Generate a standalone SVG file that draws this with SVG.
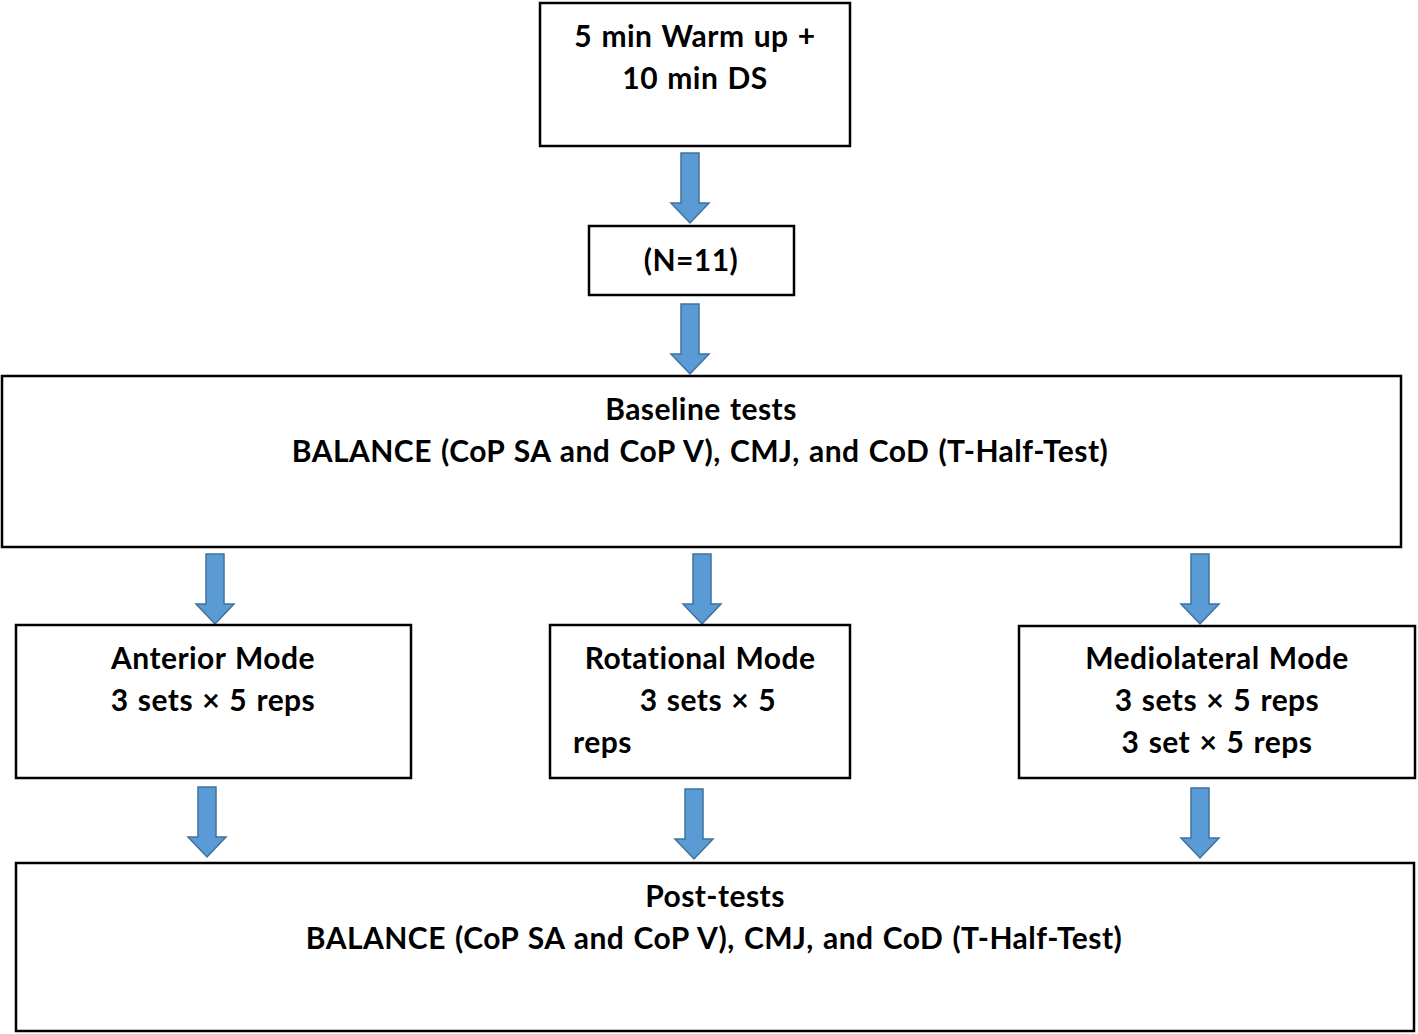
<svg xmlns="http://www.w3.org/2000/svg" width="1418" height="1034" viewBox="0 0 1418 1034">
<defs>
<style>
.box{fill:#fff;stroke:#000;stroke-width:2.5}
.t{font-family:Lato,"Open Sans",sans-serif;font-weight:bold;font-size:30px;letter-spacing:0.45px;word-spacing:1.5px;fill:#000;text-anchor:middle}
.arr{fill:#5B9BD5;stroke:#41719C;stroke-width:1.5}
</style>
<path id="ar" d="M-9,0 H9 V50 H19 L0,70 L-19,50 H-9 Z"/>
</defs>
<rect width="1418" height="1034" fill="#fff"/>
<g id="connectors">
<use href="#ar" class="arr" x="690" y="153"/>
<use href="#ar" class="arr" x="690" y="304"/>
<use href="#ar" class="arr" x="215" y="554"/>
<use href="#ar" class="arr" x="702" y="554"/>
<use href="#ar" class="arr" x="1200" y="554"/>
<use href="#ar" class="arr" x="207" y="787"/>
<use href="#ar" class="arr" x="694" y="789"/>
<use href="#ar" class="arr" x="1200" y="788"/>
</g>
<g id="warmup">
<rect class="box" x="540" y="3" width="310" height="143"/>
<text class="t" x="695" y="47">5 min Warm up +</text>
<text class="t" x="695" y="89">10 min DS</text>
</g>
<g id="n11">
<rect class="box" x="589" y="226" width="205" height="69"/>
<text class="t" x="691" y="271">(N=11)</text>
</g>
<g id="baseline">
<rect class="box" x="2" y="376" width="1399" height="171"/>
<text class="t" x="701" y="420">Baseline tests</text>
<text class="t" x="700" y="462">BALANCE (CoP SA and CoP V), CMJ, and CoD (T-Half-Test)</text>
</g>
<g id="anterior">
<rect class="box" x="16" y="625" width="395" height="153"/>
<text class="t" x="213" y="669">Anterior Mode</text>
<text class="t" x="213" y="711">3 sets × 5 reps</text>
</g>
<g id="rotational">
<rect class="box" x="550" y="625" width="300" height="153"/>
<text class="t" x="700" y="669">Rotational Mode</text>
<text class="t" x="708" y="711">3 sets × 5</text>
<text class="t" x="573" y="753" style="text-anchor:start">reps</text>
</g>
<g id="mediolateral">
<rect class="box" x="1019" y="626" width="396" height="152"/>
<text class="t" x="1217" y="669">Mediolateral Mode</text>
<text class="t" x="1217" y="711">3 sets × 5 reps</text>
<text class="t" x="1217" y="753">3 set × 5 reps</text>
</g>
<g id="posttests">
<rect class="box" x="16" y="863" width="1398" height="168"/>
<text class="t" x="715" y="907">Post-tests</text>
<text class="t" x="714" y="949">BALANCE (CoP SA and CoP V), CMJ, and CoD (T-Half-Test)</text>
</g>
</svg>
